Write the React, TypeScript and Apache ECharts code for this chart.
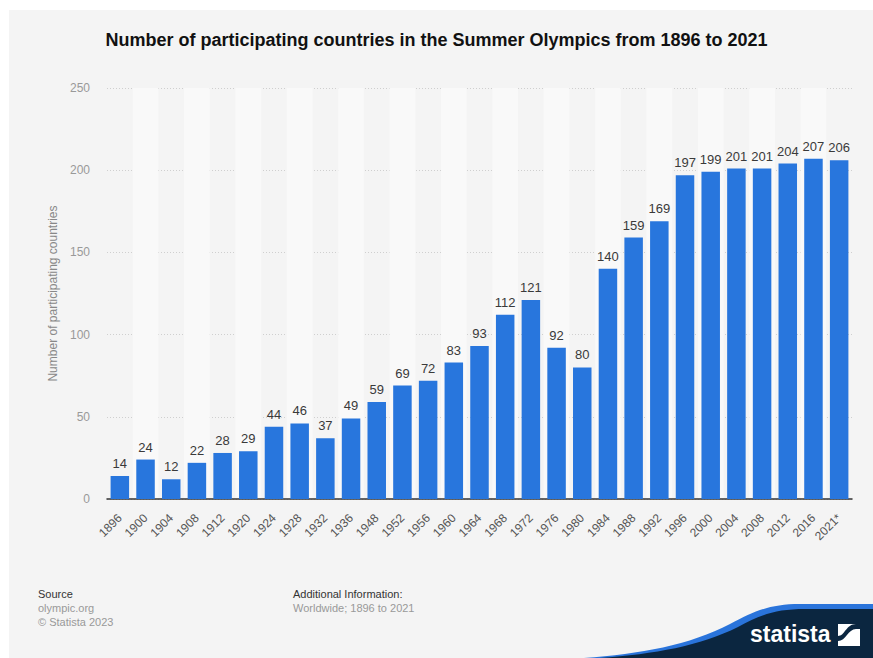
import React, { useEffect, useRef } from "react";
import * as echarts from "echarts";

const categories = ["1896","1900","1904","1908","1912","1920","1924","1928","1932","1936","1948","1952","1956","1960","1964","1968","1972","1976","1980","1984","1988","1992","1996","2000","2004","2008","2012","2016","2021*"];
const countries = [14,24,12,22,28,29,44,46,37,49,59,69,72,83,93,112,121,92,80,140,159,169,197,199,201,201,204,207,206];
const yTicks = { min: 0, max: 250, interval: 50 };
const title = "Number of participating countries in the Summer Olympics from 1896 to 2021";
const yName = "Number of participating countries";

const FONT = "'Liberation Sans', Arial, Helvetica, sans-serif";

echarts.graphic.registerShape(
  "waveBlue",
  echarts.graphic.extendPath("M 584 658 C 640 654, 690 645, 730 624 C 755 611, 770 604, 800 604 L 873 604 L 873 658 Z", {})
);
echarts.graphic.registerShape(
  "waveNavy",
  echarts.graphic.extendPath("M 600 658 C 655 654, 700 646, 738 627 C 762 614, 777 609, 805 609 L 873 609 L 873 658 Z", {})
);
echarts.graphic.registerShape(
  "logoSwoosh",
  echarts.graphic.extendPath("M 838 646 L 838 641 C 846 641, 848 629, 856 629 L 860 629 L 860 624 L 856 624 C 846 624, 845 636, 838 636 Z", {})
);

export default function App() {
  const ref = useRef<HTMLDivElement>(null);
  useEffect(() => {
    document.body.style.margin = "0";
    if (!ref.current) return;
    const chart = echarts.init(ref.current, undefined, { renderer: "svg" });
    chart.setOption({
      animation: false,
      backgroundColor: "#ffffff",
      textStyle: { fontFamily: FONT },
      grid: { left: 107, right: 21, top: 88, bottom: 159, containLabel: false },
      xAxis: {
        type: "category",
        data: categories,
        axisLine: { lineStyle: { color: "#333", width: 1.5 } },
        axisTick: { show: false },
        axisLabel: { rotate: 45, color: "#555", fontSize: 12, interval: 0, margin: 17, fontFamily: FONT },
        splitArea: { show: true, areaStyle: { color: ["rgba(0,0,0,0)", "#f9f9f9"] } },
      },
      yAxis: {
        type: "value",
        min: yTicks.min,
        max: yTicks.max,
        interval: yTicks.interval,
        name: yName,
        nameLocation: "middle",
        nameGap: 48,
        nameTextStyle: { color: "#888", fontSize: 12, fontFamily: FONT },
        axisLine: { show: false },
        axisTick: { show: false },
        axisLabel: { color: "#999", fontSize: 12, margin: 17, fontFamily: FONT },
        splitLine: { lineStyle: { color: "#cfcfcf", type: [1, 2], width: 1 } },
      },
      graphic: [
        { type: "rect", z: -10, silent: true, shape: { x: 9, y: 10, width: 864, height: 648 }, style: { fill: "#f4f4f4" } },
        { type: "text", left: "center", top: 31, style: { text: title, font: `bold 18px ${FONT}`, fill: "#111" } },
        { type: "text", left: 38, top: 588, style: { text: "Source", font: `11px ${FONT}`, fill: "#333" } },
        { type: "text", left: 38, top: 602, style: { text: "olympic.org", font: `11px ${FONT}`, fill: "#999" } },
        { type: "text", left: 38, top: 616, style: { text: "© Statista 2023", font: `11px ${FONT}`, fill: "#999" } },
        { type: "text", left: 293, top: 588, style: { text: "Additional Information:", font: `11px ${FONT}`, fill: "#333" } },
        { type: "text", left: 293, top: 602, style: { text: "Worldwide; 1896 to 2021", font: `11px ${FONT}`, fill: "#999" } },
        { type: "waveBlue", x: 0, y: 0, style: { fill: "#2a74db" } },
        { type: "waveNavy", x: 0, y: 0, style: { fill: "#0b2640" } },
        { type: "text", x: 750, y: 622, style: { text: "statista", font: `bold 23px ${FONT}`, fill: "#ffffff" } },
        { type: "rect", shape: { x: 838, y: 624, width: 22, height: 22 }, style: { fill: "#ffffff" } },
        { type: "logoSwoosh", x: 0, y: 0, style: { fill: "#0b2640" } },
      ],
      series: [
        {
          type: "bar",
          data: countries,
          barCategoryGap: "28%",
          itemStyle: { color: "#2876dd" },
          label: { show: true, position: "top", color: "#3a3a3a", fontSize: 13, distance: 6, fontFamily: FONT },
        },
      ],
    });
    return () => chart.dispose();
  }, []);
  return <div ref={ref} style={{ width: 873, height: 658 }} />;
}
